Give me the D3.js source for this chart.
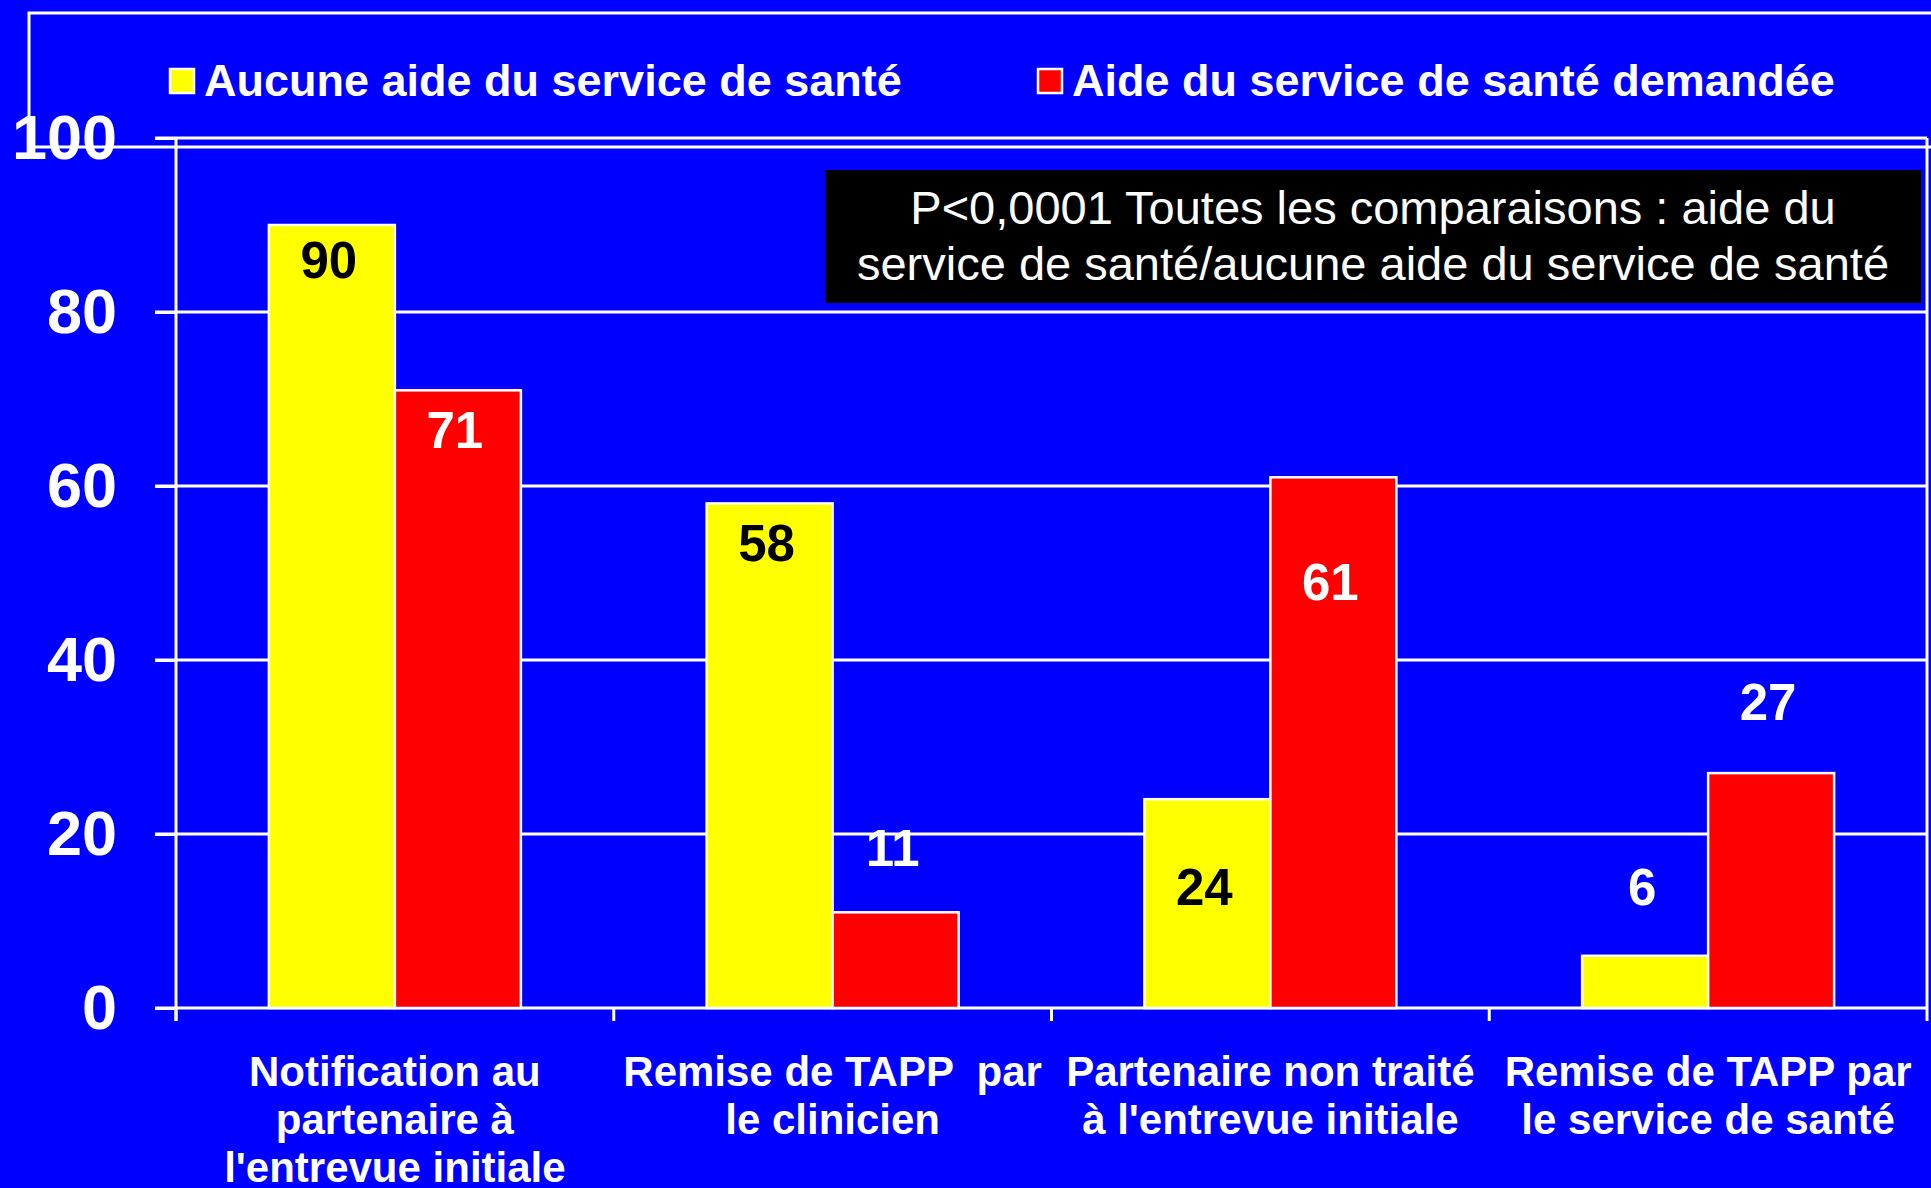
<!DOCTYPE html>
<html>
<head>
<meta charset="utf-8">
<script src="https://cdn.jsdelivr.net/npm/d3@7"></script>
<style>
  html, body { margin: 0; padding: 0; background: #0000ff; }
  svg { display: block; }
</style>
</head>
<body>
<div id="chart"></div>
<script>
// categories (multi-line labels)
const categories = ["notif", "tappClin", "nonTraite", "tappServ"]
const categoryLines = [
    ["Notification au", "partenaire à", "l'entrevue initiale"],
    ["Remise de TAPP  par", "le clinicien"],
    ["Partenaire non traité", "à l'entrevue initiale"],
    ["Remise de TAPP par", "le service de santé"]
]
const seriesNames = ["Aucune aide du service de santé", "Aide du service de santé demandée"]
const noHelp = [90, 58, 24, 6]
const helpAsked = [71, 11, 61, 27]
// where each value label sits (in axis units)
const noHelpLabelAt = [86, 53.5, 14, 14]
const helpAskedLabelAt = [66.5, 18.4, 49, 35.2]
const yTicks = [0, 20, 40, 60, 80, 100]
const note = ["P<0,0001 Toutes les comparaisons : aide du", "service de santé/aucune aide du service de santé"]

const width = 1931
const height = 1188
const plot = {left: 176, right: 1927, top: 138, bottom: 1008}
const font = "'Liberation Sans', Arial, sans-serif"
const colors = ["#ffff00", "#ff0000"]

const svg = d3.select("#chart")
    .append("svg")
    .attr("width", width)
    .attr("height", height)
    .style("font-family", font)

svg.append("rect")
    .attr("width", width)
    .attr("height", height)
    .attr("fill", "#0000ff")

// legend frame
svg.append("rect")
    .attr("x", 29).attr("y", 13)
    .attr("width", 2000).attr("height", 134)
    .attr("fill", "none")
    .attr("stroke", "white")
    .attr("stroke-width", 3)

const x0 = d3.scaleBand()
    .domain(categories)
    .range([plot.left, plot.right])
    .padding(0)

const x1 = d3.scaleBand()
    .domain([0, 1])
    .range([0, x0.bandwidth()])
    .paddingInner(0)
    .paddingOuter(0.737)

const y = d3.scaleLinear()
    .domain([0, 100])
    .range([plot.bottom, plot.top])

// gridlines
svg.append("g")
    .selectAll("line")
    .data(yTicks)
    .join("line")
    .attr("x1", plot.left - 21)
    .attr("x2", plot.right)
    .attr("y1", d => y(d))
    .attr("y2", d => y(d))
    .attr("stroke", "white")
    .attr("stroke-width", 3)

// right border
svg.append("line")
    .attr("x1", plot.right).attr("x2", plot.right)
    .attr("y1", plot.top).attr("y2", plot.bottom)
    .attr("stroke", "white")
    .attr("stroke-width", 3)

// y axis
const yAxis = svg.append("g")
    .attr("transform", `translate(${plot.left},0)`)
    .call(d3.axisLeft(y).tickValues(yTicks).tickSize(21).tickPadding(38).tickSizeOuter(0))
yAxis.select(".domain").attr("stroke", "white").attr("stroke-width", 3)
    .attr("d", `M0,${plot.top}V${plot.bottom + 13}`)
yAxis.selectAll(".tick line").attr("stroke", "white").attr("stroke-width", 3)
yAxis.selectAll(".tick text")
    .attr("fill", "white")
    .style("font-family", font)
    .style("font-size", "63px")
    .style("font-weight", "bold")

// category tick marks at band edges
const edges = categories.map(c => x0(c)).concat([plot.right])
svg.append("g")
    .selectAll("line")
    .data(edges)
    .join("line")
    .attr("x1", d => d).attr("x2", d => d)
    .attr("y1", plot.bottom)
    .attr("y2", plot.bottom + 13)
    .attr("stroke", "white")
    .attr("stroke-width", 3)

// bars
const rows = categories.map((c, i) => ({
    cat: c,
    vals: [
        {s: 0, v: noHelp[i], at: noHelpLabelAt[i]},
        {s: 1, v: helpAsked[i], at: helpAskedLabelAt[i]}
    ]
}))

const groups = svg.append("g")
    .selectAll("g")
    .data(rows)
    .join("g")
    .attr("transform", d => `translate(${x0(d.cat)},0)`)

groups.selectAll("rect")
    .data(d => d.vals)
    .join("rect")
    .attr("x", d => x1(d.s))
    .attr("y", d => y(d.v))
    .attr("width", x1.bandwidth())
    .attr("height", d => y(0) - y(d.v))
    .attr("fill", d => colors[d.s])
    .attr("stroke", "white")
    .attr("stroke-width", 2.5)

groups.selectAll("text")
    .data(d => d.vals)
    .join("text")
    .attr("x", d => x1(d.s) + x1.bandwidth() / 2 - 3)
    .attr("y", d => y(d.at))
    .attr("dy", "0.36em")
    .attr("text-anchor", "middle")
    .attr("fill", d => (d.s === 0 && d.at < d.v) ? "black" : "white")
    .style("font-size", "51px")
    .style("font-weight", "bold")
    .text(d => d.v)

// category labels
const catLabels = svg.append("g")
    .selectAll("text")
    .data(categories)
    .join("text")
    .attr("x", d => x0(d) + x0.bandwidth() / 2)
    .attr("y", 1086)
    .attr("text-anchor", "middle")
    .attr("fill", "white")
    .style("font-size", "42px")
    .style("font-weight", "bold")

catLabels.selectAll("tspan")
    .data((d, i) => categoryLines[i])
    .join("tspan")
    .attr("x", function() { return d3.select(this.parentNode).attr("x") })
    .attr("dy", (d, i) => i === 0 ? 0 : 48)
    .style("white-space", "pre")
    .text(d => d)

// legend
const legend = svg.append("g")
    .selectAll("g")
    .data(seriesNames)
    .join("g")
    .attr("transform", (d, i) => `translate(${[170, 1038][i]},0)`)

legend.append("rect")
    .attr("x", 0).attr("y", 69)
    .attr("width", 24).attr("height", 24)
    .attr("fill", (d, i) => colors[i])
    .attr("stroke", "white")
    .attr("stroke-width", 2.5)

legend.append("text")
    .attr("x", 34)
    .attr("y", 96)
    .attr("fill", "white")
    .style("font-size", "45px")
    .style("font-weight", "bold")
    .text(d => d)

// annotation box
svg.append("rect")
    .attr("x", 825).attr("y", 170)
    .attr("width", 1096).attr("height", 133)
    .attr("fill", "black")

svg.append("g")
    .selectAll("text")
    .data(note)
    .join("text")
    .attr("x", 1373)
    .attr("y", (d, i) => 224 + i * 56)
    .attr("text-anchor", "middle")
    .attr("fill", "white")
    .style("font-size", "47px")
    .text(d => d)
</script>
</body>
</html>
